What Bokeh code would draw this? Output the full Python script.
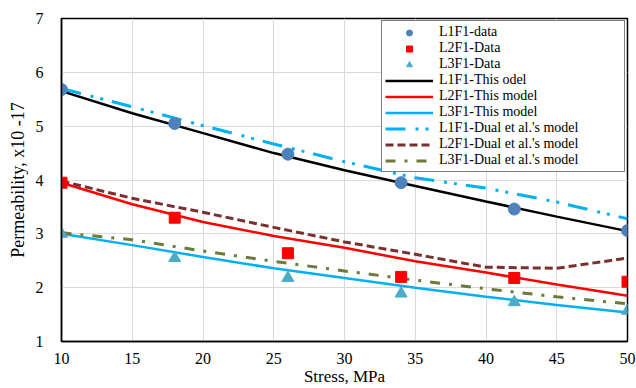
from bokeh.plotting import figure
from bokeh.models import Legend, LegendItem, FixedTicker, Range1d
from bokeh.embed import file_html
from bokeh.resources import INLINE

# ---- data ----
stress_data = [10, 18, 26, 34, 42, 50]
l1f1_data = [5.68, 5.05, 4.48, 3.95, 3.46, 3.06]
l2f1_data = [3.95, 3.30, 2.64, 2.20, 2.18, 2.11]
l3f1_data = [3.00, 2.55, 2.18, 1.89, 1.73, 1.57]

stress_model = [10, 15, 20, 25, 30, 35, 40, 45, 50]
l1f1_this = [5.65, 5.24, 4.87, 4.50, 4.18, 3.89, 3.60, 3.32, 3.05]
l2f1_this = [3.95, 3.55, 3.22, 2.96, 2.74, 2.49, 2.28, 2.06, 1.85]
l3f1_this = [3.00, 2.79, 2.57, 2.36, 2.18, 2.00, 1.83, 1.68, 1.54]
l1f1_dual = [5.70, 5.36, 5.01, 4.67, 4.34, 4.04, 3.85, 3.59, 3.28]
l2f1_dual = [3.98, 3.66, 3.40, 3.12, 2.85, 2.62, 2.38, 2.36, 2.55]
l3f1_dual = [3.02, 2.89, 2.68, 2.49, 2.31, 2.14, 1.98, 1.83, 1.70]

x_ticks = [10, 15, 20, 25, 30, 35, 40, 45, 50]
y_ticks = [1, 2, 3, 4, 5, 6, 7]

FONT = "Liberation Serif"

p = figure(width=636, height=388, output_backend="svg", toolbar_location=None,
           x_range=Range1d(10, 50), y_range=Range1d(1, 7),
           min_border_left=61, min_border_right=9, min_border_top=18, min_border_bottom=46)
p.background_fill_color = "white"
p.border_fill_color = "white"
p.outline_line_color = "black"
p.outline_line_width = 1.5

for ax in (p.xaxis[0], p.yaxis[0]):
    ax.major_tick_out = 0
    ax.major_tick_in = 0
    ax.minor_tick_out = 0
    ax.minor_tick_in = 0
    ax.axis_line_color = "black"
    ax.axis_line_width = 1.5
    ax.major_label_text_font = FONT
    ax.major_label_text_font_size = "16px"
    ax.major_label_text_color = "black"
    ax.axis_label_text_font = FONT
    ax.axis_label_text_font_style = "normal"
    ax.axis_label_text_color = "black"

p.xaxis.ticker = FixedTicker(ticks=x_ticks)
p.yaxis.ticker = FixedTicker(ticks=y_ticks)
p.xaxis.axis_label = "Stress, MPa"
p.yaxis.axis_label = "Permeability, x10 -17"
p.xaxis.axis_label_text_font_size = "17px"
p.yaxis.axis_label_text_font_size = "18px"
p.xaxis.major_label_standoff = 11
p.xaxis.axis_label_standoff = 0
p.yaxis.major_label_standoff = 18
p.yaxis.axis_label_standoff = 5

p.xgrid.grid_line_color = "#D9D9D9"
p.ygrid.grid_line_color = "#D9D9D9"
p.xgrid.ticker = FixedTicker(ticks=x_ticks)
p.ygrid.ticker = FixedTicker(ticks=y_ticks)

r_l1_this = p.line(stress_model, l1f1_this, line_color="black", line_width=2.5)
r_l2_this = p.line(stress_model, l2f1_this, line_color="#FF0000", line_width=2.5)
r_l3_this = p.line(stress_model, l3f1_this, line_color="#00B0F0", line_width=2.5)
r_l1_dual = p.line(stress_model, l1f1_dual, line_color="#00B0F0", line_width=3,
                   line_dash="20 10 3 7 3 9")
r_l2_dual = p.line(stress_model, l2f1_dual, line_color="#7B3030", line_width=3,
                   line_dash="8 4")
r_l3_dual = p.line(stress_model, l3f1_dual, line_color="#6B7B3A", line_width=3,
                   line_dash="10 9 3 9")

r_l1_pts = p.scatter(stress_data, l1f1_data, marker="circle", size=12,
                     fill_color="#4F81BD", line_color="#4F81BD")
r_l2_pts = p.scatter(stress_data, l2f1_data, marker="square", size=11,
                     fill_color="#FF0000", line_color="#FF0000")
r_l3_pts = p.scatter(stress_data, l3f1_data, marker="triangle", size=12,
                     fill_color="#4BACC6", line_color="#4BACC6")

items = [
    LegendItem(label="L1F1-data", renderers=[r_l1_pts]),
    LegendItem(label="L2F1-Data", renderers=[r_l2_pts]),
    LegendItem(label="L3F1-Data", renderers=[r_l3_pts]),
    LegendItem(label="L1F1-This odel", renderers=[r_l1_this]),
    LegendItem(label="L2F1-This model", renderers=[r_l2_this]),
    LegendItem(label="L3F1-This model", renderers=[r_l3_this]),
    LegendItem(label="L1F1-Dual et al.'s model", renderers=[r_l1_dual]),
    LegendItem(label="L2F1-Dual et al.'s model", renderers=[r_l2_dual]),
    LegendItem(label="L3F1-Dual et al.'s model", renderers=[r_l3_dual]),
]
legend = Legend(items=items, location=(320, 169), margin=0,
                label_text_font=FONT, label_text_font_size="14px",
                label_text_color="black",
                glyph_width=48, glyph_height=15, label_height=15, label_width=182,
                spacing=0, padding=3, label_standoff=6,
                border_line_color="black", border_line_width=1.2,
                background_fill_color="white", background_fill_alpha=1.0)
p.add_layout(legend, "center")

open("out.html", "w").write(file_html(p, INLINE))
